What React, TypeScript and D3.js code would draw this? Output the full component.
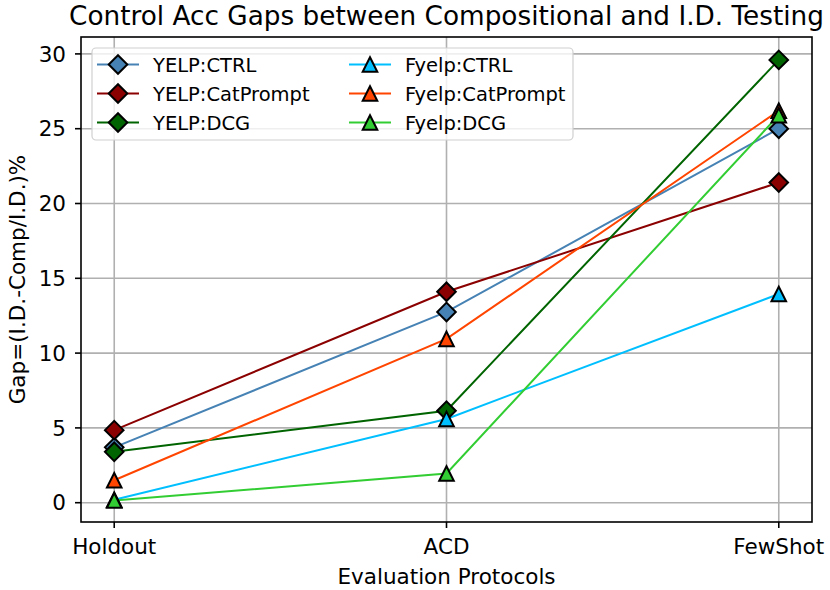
import { useEffect, useRef } from "react";
import * as d3 from "d3";

const protocols = ["Holdout", "ACD", "FewShot"];
const yTicks = [0, 5, 10, 15, 20, 25, 30];

const seriesNames = [
  "YELP:CTRL",
  "YELP:CatPrompt",
  "YELP:DCG",
  "Fyelp:CTRL",
  "Fyelp:CatPrompt",
  "Fyelp:DCG",
];
const seriesColors = ["#4682b4", "#8b0000", "#006400", "#00bfff", "#ff4500", "#32cd32"];
const seriesMarkers = ["diamond", "diamond", "diamond", "triangle", "triangle", "triangle"];

const yelpCtrl = [3.7, 12.75, 25.0];
const yelpCatPrompt = [4.85, 14.1, 21.4];
const yelpDcg = [3.4, 6.15, 29.6];
const fyelpCtrl = [0.2, 5.6, 13.95];
const fyelpCatPrompt = [1.5, 10.95, 26.2];
const fyelpDcg = [0.15, 1.95, 25.9];

const seriesValues = [yelpCtrl, yelpCatPrompt, yelpDcg, fyelpCtrl, fyelpCatPrompt, fyelpDcg];

const W = 830;
const H = 590;
const FONT = "DejaVu Sans, sans-serif";

function markerPath(kind: string) {
  if (kind === "diamond") {
    const r = 9.3;
    return `M0,${-r}L${r},0L0,${r}L${-r},0Z`;
  }
  const r = 7.3;
  return `M0,${-r}L${r},${r}L${-r},${r}Z`;
}

export default function App() {
  const svgRef = useRef<SVGSVGElement>(null);

  useEffect(() => {
    if (!svgRef.current) return;
    const svg = d3.select(svgRef.current);
    svg.selectAll("*").remove();

    const left = 81;
    const right = 812;
    const top = 37;
    const bottom = 522;

    const x = d3.scaleLinear().domain([-0.1, 2.1]).range([left, right]);
    const y = d3.scaleLinear().domain([-1.29, 31.13]).range([bottom, top]);

    svg.append("rect").attr("width", W).attr("height", H).attr("fill", "#fff");

    // grid
    const grid = svg.append("g").attr("stroke", "#b0b0b0").attr("stroke-width", 1.6);
    yTicks.forEach((t) => {
      grid.append("line").attr("x1", left).attr("x2", right).attr("y1", y(t)).attr("y2", y(t));
    });
    protocols.forEach((_, i) => {
      grid.append("line").attr("x1", x(i)).attr("x2", x(i)).attr("y1", top).attr("y2", bottom);
    });

    // lines
    const line = d3
      .line<number>()
      .x((_, i) => x(i))
      .y((d) => y(d));

    seriesValues.forEach((vals, s) => {
      svg
        .append("path")
        .datum(vals)
        .attr("d", line)
        .attr("fill", "none")
        .attr("stroke", seriesColors[s])
        .attr("stroke-width", 2);
    });
    seriesValues.forEach((vals, s) => {
      vals.forEach((v, i) => {
        svg
          .append("path")
          .attr("d", markerPath(seriesMarkers[s]))
          .attr("transform", `translate(${x(i)},${y(v)})`)
          .attr("fill", seriesColors[s])
          .attr("stroke", "#000")
          .attr("stroke-width", 2);
      });
    });

    // spines
    svg
      .append("rect")
      .attr("x", left)
      .attr("y", top)
      .attr("width", right - left)
      .attr("height", bottom - top)
      .attr("fill", "none")
      .attr("stroke", "#000")
      .attr("stroke-width", 1.6);

    // y ticks
    yTicks.forEach((t) => {
      svg
        .append("line")
        .attr("x1", left - 6)
        .attr("x2", left)
        .attr("y1", y(t))
        .attr("y2", y(t))
        .attr("stroke", "#000")
        .attr("stroke-width", 1.6);
      svg
        .append("text")
        .attr("x", left - 15)
        .attr("y", y(t))
        .attr("dy", "0.36em")
        .attr("text-anchor", "end")
        .style("font-family", FONT)
        .style("font-size", "21.5px")
        .text(t);
    });

    // x ticks
    protocols.forEach((p, i) => {
      svg
        .append("line")
        .attr("x1", x(i))
        .attr("x2", x(i))
        .attr("y1", bottom)
        .attr("y2", bottom + 6)
        .attr("stroke", "#000")
        .attr("stroke-width", 1.6);
      svg
        .append("text")
        .attr("x", x(i))
        .attr("y", 554)
        .attr("text-anchor", "middle")
        .style("font-family", FONT)
        .style("font-size", "21.5px")
        .text(p);
    });

    // axis labels
    svg
      .append("text")
      .attr("x", (left + right) / 2)
      .attr("y", 584)
      .attr("text-anchor", "middle")
      .style("font-family", FONT)
      .style("font-size", "21.5px")
      .text("Evaluation Protocols");

    svg
      .append("text")
      .attr("transform", `translate(25,${(top + bottom) / 2}) rotate(-90)`)
      .attr("text-anchor", "middle")
      .style("font-family", FONT)
      .style("font-size", "21.5px")
      .text("Gap=(I.D.-Comp/I.D.)%");

    // title
    svg
      .append("text")
      .attr("x", (left + right) / 2)
      .attr("y", 25)
      .attr("text-anchor", "middle")
      .style("font-family", FONT)
      .style("font-size", "26.3px")
      .text("Control Acc Gaps between Compositional and I.D. Testing");

    // legend
    const lg = svg.append("g");
    lg.append("rect")
      .attr("x", 92)
      .attr("y", 48)
      .attr("width", 481)
      .attr("height", 92)
      .attr("rx", 4)
      .attr("fill", "#fff")
      .attr("fill-opacity", 0.8)
      .attr("stroke", "#d0d0d0")
      .attr("stroke-width", 1.2);

    seriesNames.forEach((name, s) => {
      const col = Math.floor(s / 3);
      const row = s % 3;
      const hx = col === 0 ? 97 : 349;
      const cy = 64.5 + row * 29;
      lg.append("line")
        .attr("x1", hx)
        .attr("x2", hx + 42)
        .attr("y1", cy)
        .attr("y2", cy)
        .attr("stroke", seriesColors[s])
        .attr("stroke-width", 2);
      lg.append("path")
        .attr("d", markerPath(seriesMarkers[s]))
        .attr("transform", `translate(${hx + 21},${cy})`)
        .attr("fill", seriesColors[s])
        .attr("stroke", "#000")
        .attr("stroke-width", 2);
      lg.append("text")
        .attr("x", hx + 56)
        .attr("y", cy)
        .attr("dy", "0.36em")
        .style("font-family", FONT)
        .style("font-size", "19.5px")
        .text(name);
    });
  }, []);

  return (
    <svg
      ref={svgRef}
      width={W}
      height={H}
      style={{ position: "absolute", left: 0, top: 0 }}
    />
  );
}
